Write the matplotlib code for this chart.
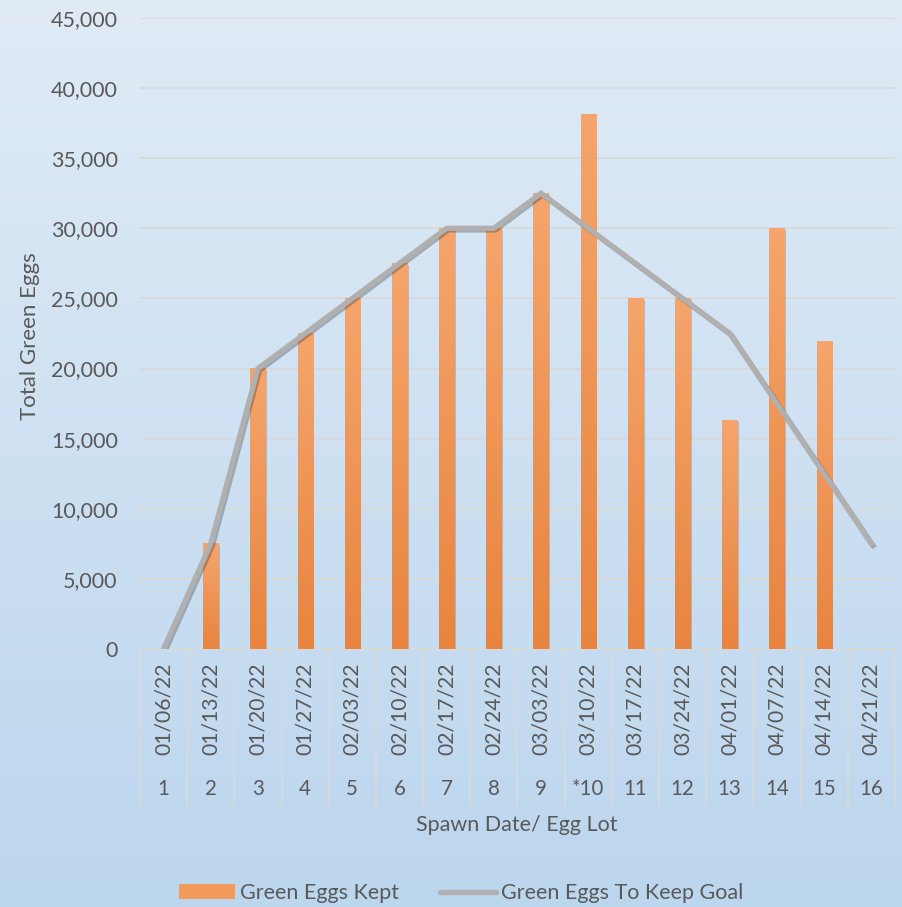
import numpy as np
import matplotlib
matplotlib.use("Agg")
import matplotlib.pyplot as plt
from matplotlib import patheffects as pe
from matplotlib.patches import Patch
from matplotlib.lines import Line2D
from matplotlib.colors import LinearSegmentedColormap

dates = ["01/06/22", "01/13/22", "01/20/22", "01/27/22", "02/03/22", "02/10/22",
         "02/17/22", "02/24/22", "03/03/22", "03/10/22", "03/17/22", "03/24/22",
         "04/01/22", "04/07/22", "04/14/22", "04/21/22"]
lots = ["1", "2", "3", "4", "5", "6", "7", "8", "9", "*10", "11", "12", "13", "14", "15", "16"]
eggs_kept = [0, 7500, 20000, 22500, 25000, 27500, 30000, 30000, 32500, 38100,
             25000, 25000, 16300, 30000, 21900, 0]
goal = [0, 7500, 20000, 22500, 25000, 27500, 30000, 30000, 32500, 30000,
        27500, 25000, 22500, 17500, 12500, 7500]
yticks = [0, 5000, 10000, 15000, 20000, 25000, 30000, 35000, 40000, 45000]

plt.rcParams['font.family'] = ['Lato', 'DejaVu Sans']
txt = '#595959'

fig = plt.figure(figsize=(9.03, 9.07), dpi=100)

# background gradient
bg = fig.add_axes([0, 0, 1, 1], zorder=-10)
bg.axis('off')
ny = 256
grad = np.linspace(0, 1, ny)[:, None] * np.ones((1, 2))
bgcmap = LinearSegmentedColormap.from_list('bg', ['#e0ebf6', '#bcd6ee'])
bg.imshow(grad, aspect='auto', cmap=bgcmap, extent=[0, 1, 0, 1], origin='upper')

ax = fig.add_axes([0.155, 0.2845, 0.836, 0.6957])
ax.set_facecolor('none')
x = np.arange(len(dates))

bars = ax.bar(x, eggs_kept, width=0.32, color='#ee8f4f', zorder=3,
              path_effects=[pe.SimplePatchShadow(offset=(1.2, -1.2), alpha=0.22), pe.Normal()])
barcmap = LinearSegmentedColormap.from_list('bar', ['#f5a56c', '#e8843f'])
g = np.linspace(0, 1, 64)[:, None]
for b in bars:
    h = b.get_height()
    if h <= 0:
        continue
    x0 = b.get_x()
    ax.imshow(g, aspect='auto', cmap=barcmap, extent=[x0, x0 + b.get_width(), 0, h],
              origin='upper', zorder=4)

ax.plot(x, goal, color='#b0b0b0', lw=3.8, zorder=5, solid_joinstyle='miter',
        path_effects=[pe.SimpleLineShadow(offset=(1.2, -1.2), alpha=0.25), pe.Normal()])

ax.set_xlim(-0.5, len(dates) - 0.5)
ax.set_ylim(0, 45000)
ax.set_yticks(yticks)
ax.set_yticklabels([f"{v:,}" for v in yticks], fontsize=15.5, color=txt)
ax.yaxis.grid(True, color='#d9d9d9', lw=1.3, zorder=0)
ax.set_axisbelow(True)
for s in ['top', 'right', 'left']:
    ax.spines[s].set_visible(False)
ax.spines['bottom'].set_color('#d9d9d9')
ax.spines['bottom'].set_linewidth(1.3)
ax.tick_params(axis='y', length=0, pad=16)
ax.tick_params(axis='x', length=0)
ax.set_xticks([])

fig.text(30 / 903, 1 - 336 / 907, "Total Green Eggs", rotation=90, ha='center',
         va='center', fontsize=16, color=txt)

trans = ax.get_xaxis_transform()
# separators
for i in range(len(dates) + 1):
    ax.plot([i - 0.5, i - 0.5], [0, -0.247], transform=trans, color='#d9d9d9',
            lw=1.3, clip_on=False, zorder=2)
for i, (d, l) in enumerate(zip(dates, lots)):
    ax.text(i, -0.095, d, transform=trans, rotation=90, ha='center', va='center',
            fontsize=15.2, color=txt)
    ax.text(i, -0.222, l, transform=trans, ha='center', va='center',
            fontsize=14.8, color=txt)

fig.text(0.5725, 0.0904, "Spawn Date/ Egg Lot", ha='center', va='center',
         fontsize=15.5, color=txt)

handles = [Patch(facecolor='#f19a5c', edgecolor='none'),
           Line2D([0], [0], color='#b0b0b0', lw=3.8, solid_capstyle='round')]
fig.legend(handles, ["Green Eggs Kept", "Green Eggs To Keep Goal"], loc='center',
           bbox_to_anchor=(0.5105, 0.0154), ncol=2, frameon=False, fontsize=15.5,
           labelcolor=txt, handlelength=2.6, handleheight=0.63, handletextpad=0.22,
           columnspacing=1.9)

fig.savefig("out.png", dpi=100)
